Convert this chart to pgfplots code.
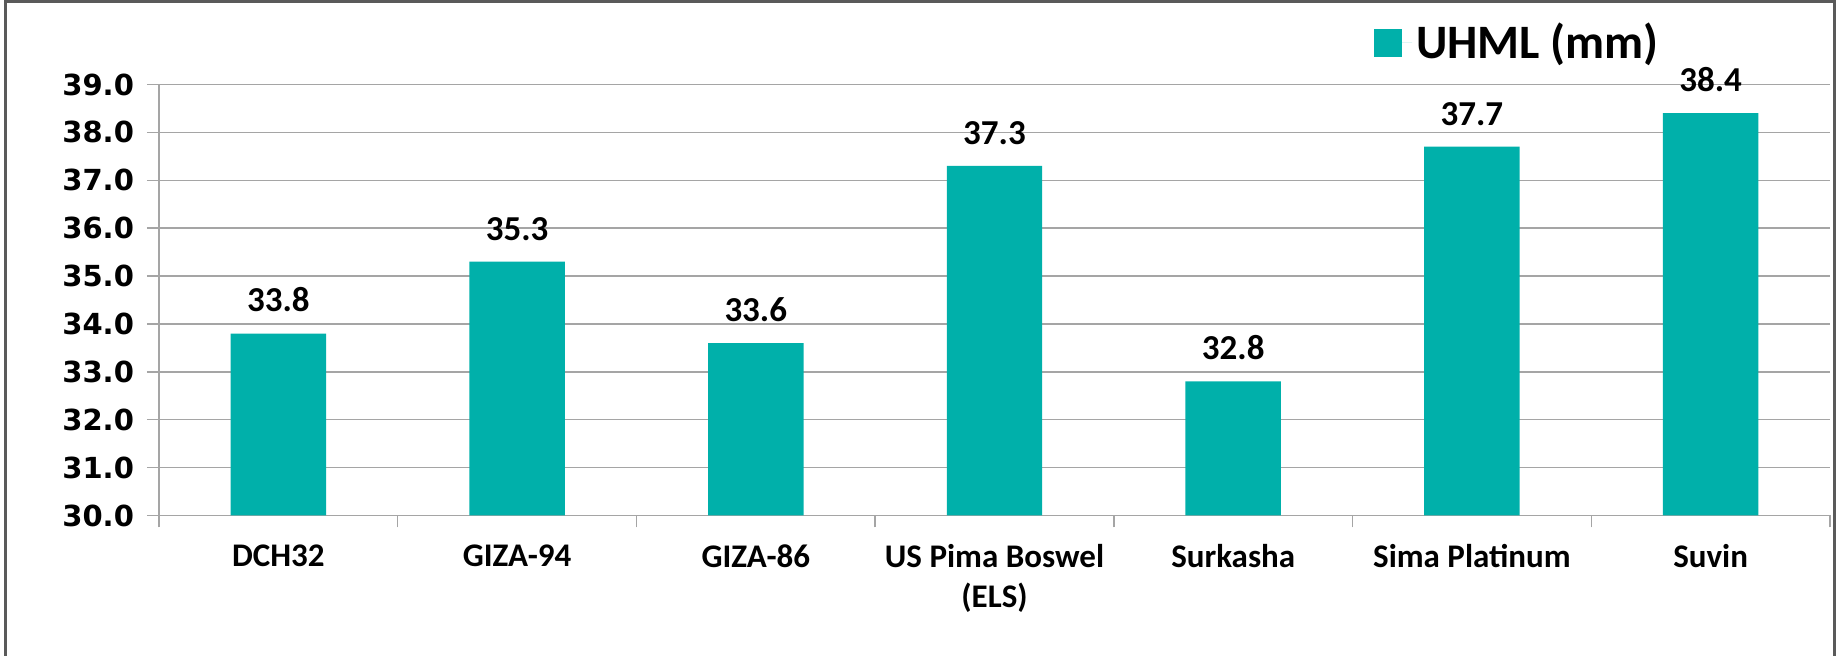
\documentclass[border=0pt]{standalone}
\usepackage{pgfplots}
\pgfplotsset{compat=1.18}
\usepackage{fontspec}
\setmainfont{Carlito}
\newfontfamily\tickfont{DejaVu Sans}
\definecolor{barteal}{RGB}{0,176,170}
\definecolor{gridgrey}{RGB}{165,165,165}
\definecolor{framegrey}{RGB}{90,90,90}

\begin{document}
\begin{tikzpicture}
\path[use as bounding box] (0,0) rectangle (918.5pt,328pt);
\draw[framegrey, line width=1.5pt] (2.5pt,-5pt) -- (2.5pt,327.3pt) -- (917.3pt,327.3pt) -- (917.3pt,-5pt);

\begin{axis}[
    at={(79.5pt,70.25pt)}, anchor=south west,
    scale only axis,
    width=835.5pt, height=215.5pt,
    ybar, bar width=0.40,
    clip mode=individual,
    xmin=-0.5, xmax=6.5,
    ymin=30, ymax=39,
    ytick={30,31,...,39},
    ymajorgrids,
    grid style={gridgrey, line width=0.75pt},
    axis x line*=bottom, axis y line*=left,
    axis line style={gridgrey, line width=0.75pt},
    tick align=outside,
    major tick length=6pt,
    tick style={gridgrey, line width=0.75pt},
    xtick={-0.5,0.5,...,6.5},
    xticklabels={},
    extra x ticks={0,1,2,3,4,5,6},
    extra x tick labels={DCH32, GIZA-94, GIZA-86, {US Pima Boswel\\(ELS)}, Surkasha, Sima Platinum, Suvin},
    extra x tick style={major tick length=0pt, grid=none},
    x tick label style={font=\bfseries\fontsize{16.5}{20}\selectfont, align=center, yshift=-11pt},
    y tick label style={font=\tickfont\bfseries\fontsize{14.5}{17}\selectfont,
        /pgf/number format/fixed, /pgf/number format/fixed zerofill,
        /pgf/number format/precision=1, xshift=-3pt},
    /pgf/number format/assume math mode=true,
    nodes near coords,
    every node near coord/.append style={font=\bfseries\fontsize{17.5}{21}\selectfont,
        /pgf/number format/fixed, /pgf/number format/fixed zerofill,
        /pgf/number format/precision=1, inner sep=0pt, yshift=10.5pt, black},
    legend style={at={(0.727,1.097)}, anchor=west, draw=none, fill=none,
        inner sep=0pt, font=\bfseries\fontsize{24}{28}\selectfont},
]
\addplot[fill=barteal, draw=none,
    legend image code/.code={\fill[barteal] (0pt,-7pt) rectangle (14pt,7pt);
        \path (0pt,0pt) -- (19pt,0pt);}]
coordinates {
(0,33.8) (1,35.3) (2,33.6) (3,37.3) (4,32.8) (5,37.7) (6,38.4)
};
\addlegendentry{UHML (mm)}
\end{axis}
\end{tikzpicture}
\end{document}
